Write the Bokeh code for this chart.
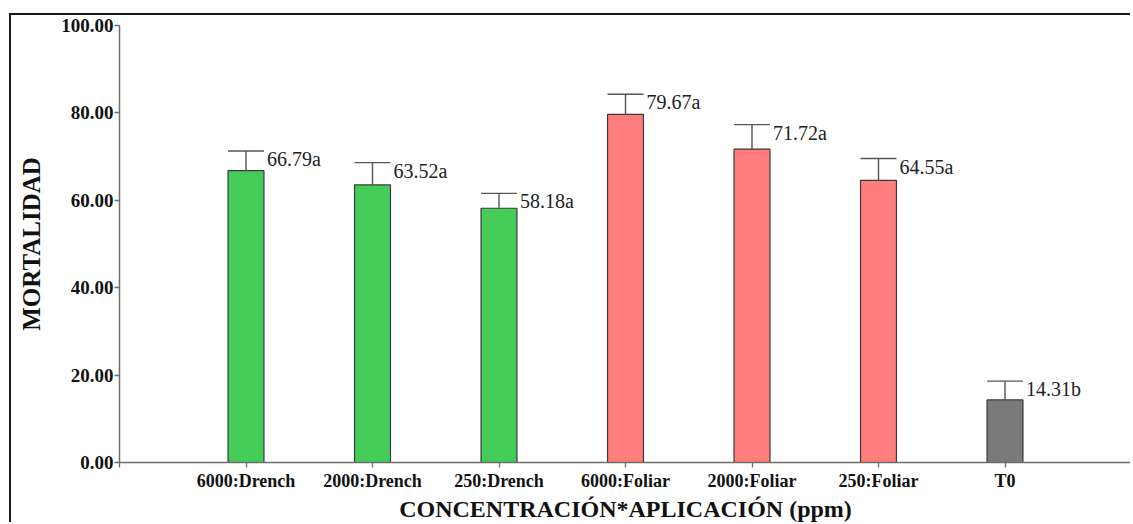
from bokeh.plotting import figure
from bokeh.models import ColumnDataSource, FixedTicker, NumeralTickFormatter, Range1d
from bokeh.core.properties import value
from bokeh.embed import file_html
from bokeh.resources import INLINE

categories = ["6000:Drench", "2000:Drench", "250:Drench", "6000:Foliar", "2000:Foliar", "250:Foliar", "T0"]
means = [66.79, 63.52, 58.18, 79.67, 71.72, 64.55, 14.31]
errors = [4.5, 5.1, 3.4, 4.6, 5.6, 5.0, 4.3]
letters = ["a", "a", "a", "a", "a", "a", "b"]
groups = ["Drench", "Drench", "Drench", "Foliar", "Foliar", "Foliar", "Control"]
group_colors = {"Drench": "#45cc58", "Foliar": "#ff7d7d", "Control": "#7a7a7a"}

xs = list(range(1, len(categories) + 1))
half = 0.142
tops = [m + e for m, e in zip(means, errors)]
src = ColumnDataSource(dict(
    x=xs, mean=means, top=tops,
    xl=[x - half for x in xs], xr=[x + half for x in xs],
    color=[group_colors[g] for g in groups],
    label=[f"{m:.2f}{l}" for m, l in zip(means, letters)],
))

p = figure(width=1121, height=509, output_backend="svg", toolbar_location=None,
           x_range=Range1d(0, 8), y_range=Range1d(0, 100),
           min_border_left=108, min_border_top=10, min_border_bottom=60, min_border_right=1)
p.margin = (13, 0, 0, 9)
p.styles = {"border-top": "2px solid #1a1a1a", "border-left": "2px solid #1a1a1a"}
p.grid.visible = False
p.outline_line_color = None

p.vbar(x="x", top="mean", bottom=0, width=2 * half, source=src,
       fill_color="color", line_color="#3a3a3a", line_width=1.2)
p.segment(x0="x", y0="mean", x1="x", y1="top", source=src, line_color="#555555", line_width=1.4)
p.segment(x0="xl", y0="top", x1="xr", y1="top", source=src, line_color="#555555", line_width=1.4)
p.text(x="xr", y="top", text="label", source=src, x_offset=3, y_offset=-3,
       text_baseline="top", text_align="left", text_font=value("Liberation Serif"),
       text_font_size="20px", text_color="#222222")

font = "Liberation Serif"
p.xaxis.ticker = FixedTicker(ticks=[0] + xs + [8])
p.xaxis.major_label_overrides = {0: "", 8: "", **{x: c for x, c in zip(xs, categories)}}
p.yaxis.ticker = FixedTicker(ticks=[0, 20, 40, 60, 80, 100])
p.yaxis.formatter = NumeralTickFormatter(format="0.00")

for ax in (p.xaxis, p.yaxis):
    ax.axis_line_color = "#6e6e6e"
    ax.axis_line_width = 1.5
    ax.major_tick_line_color = "#6e6e6e"
    ax.major_tick_line_width = 1.3
    ax.major_tick_in = 0
    ax.major_tick_out = 5
    ax.minor_tick_line_color = None
    ax.major_label_text_font = font
    ax.major_label_text_font_style = "bold"
    ax.major_label_text_color = "#111111"
    ax.axis_label_text_font = font
    ax.axis_label_text_font_style = "bold"
    ax.axis_label_text_color = "#111111"

p.xaxis.major_label_text_font_size = "18px"
p.yaxis.major_label_text_font_size = "19px"
p.xaxis.axis_label_text_font_size = "24px"
p.yaxis.axis_label_text_font_size = "25px"
p.xaxis.axis_label = "CONCENTRACIÓN*APLICACIÓN (ppm)"
p.yaxis.axis_label = "MORTALIDAD"
p.xaxis.major_label_standoff = 3
p.xaxis.axis_label_standoff = 2
p.yaxis.major_label_standoff = 1
p.yaxis.axis_label_standoff = 13

open("out.html", "w").write(file_html(p, INLINE))
